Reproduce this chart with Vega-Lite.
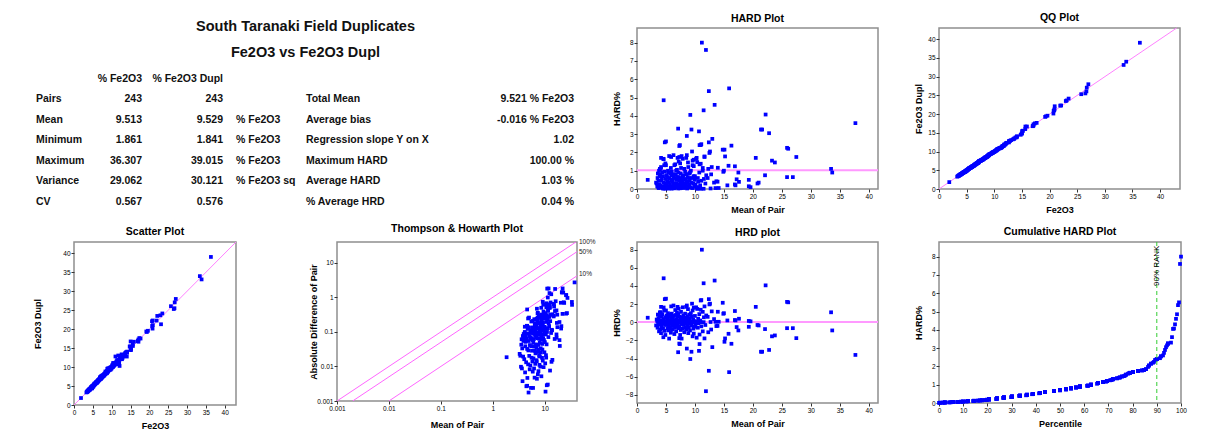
{
"$schema":"https://vega.github.io/schema/vega-lite/v6.json",
"padding":{"left":32,"top":12,"right":0,"bottom":0},
"background":"white",
"config":{
 "font":"Liberation Sans",
 "view":{"stroke":"#8f8f8f","strokeWidth":1.5},
 "axis":{"grid":false,"domain":false,"labelFontSize":6.5,"labelColor":"#000","labelPadding":1,"labelFlush":false,"labelOverlap":false,"tickSize":3,"tickColor":"#333","titleFontSize":9,"titleFontWeight":"bold","titleColor":"#000","titlePadding":2},
 "axisX":{"minExtent":14,"maxExtent":14},
 "axisY":{"minExtent":14,"maxExtent":14},
 "title":{"fontSize":10.5,"fontWeight":"bold","color":"#000","offset":4}
},
"datasets":{
 "tbl":[
  {"r":"t","c":"mid","t":"South Taranaki Field Duplicates"},
  {"r":"s","c":"mid","t":"Fe2O3 vs Fe2O3 Dupl"},
  {"r":"hdr","c":"v1","t":"% Fe2O3"},{"r":"hdr","c":"v2","t":"% Fe2O3 Dupl"},
  {"r":"Pairs","c":"lab","t":"Pairs"},{"r":"Pairs","c":"v1","t":"243"},{"r":"Pairs","c":"v2","t":"243"},{"r":"Pairs","c":"lab2","t":"Total Mean"},{"r":"Pairs","c":"val","t":"9.521 % Fe2O3"},
  {"r":"Mean","c":"lab","t":"Mean"},{"r":"Mean","c":"v1","t":"9.513"},{"r":"Mean","c":"v2","t":"9.529"},{"r":"Mean","c":"unit","t":"% Fe2O3"},{"r":"Mean","c":"lab2","t":"Average bias"},{"r":"Mean","c":"val","t":"-0.016 % Fe2O3"},
  {"r":"Minimum","c":"lab","t":"Minimum"},{"r":"Minimum","c":"v1","t":"1.861"},{"r":"Minimum","c":"v2","t":"1.841"},{"r":"Minimum","c":"unit","t":"% Fe2O3"},{"r":"Minimum","c":"lab2","t":"Regression slope Y on X"},{"r":"Minimum","c":"val","t":"1.02"},
  {"r":"Maximum","c":"lab","t":"Maximum"},{"r":"Maximum","c":"v1","t":"36.307"},{"r":"Maximum","c":"v2","t":"39.015"},{"r":"Maximum","c":"unit","t":"% Fe2O3"},{"r":"Maximum","c":"lab2","t":"Maximum HARD"},{"r":"Maximum","c":"val","t":"100.00 %"},
  {"r":"Variance","c":"lab","t":"Variance"},{"r":"Variance","c":"v1","t":"29.062"},{"r":"Variance","c":"v2","t":"30.121"},{"r":"Variance","c":"unit","t":"% Fe2O3 sq"},{"r":"Variance","c":"lab2","t":"Average HARD"},{"r":"Variance","c":"val","t":"1.03 %"},
  {"r":"CV","c":"lab","t":"CV"},{"r":"CV","c":"v1","t":"0.567"},{"r":"CV","c":"v2","t":"0.576"},{"r":"CV","c":"lab2","t":"% Average HRD"},{"r":"CV","c":"val","t":"0.04 %"}
 ],
 "thl":[
  {"p":"100%","x1":0.001,"y1":0.001,"x2":42,"y2":42,"ly":41},
  {"p":"50%","x1":0.002,"y1":0.001,"x2":42,"y2":21,"ly":21},
  {"p":"10%","x1":0.01,"y1":0.001,"x2":42,"y2":4.2,"ly":4.6}
 ],
 "pairs":[
{"m":1.85,"h":0.5,"a":1.86,"b":1.84,"d":0.0185,"k":0.5},
{"m":4.6,"h":4.85,"a":4.82,"b":4.38,"d":0.446,"k":4.85},
{"m":5.0,"h":2.6,"a":5.13,"b":4.87,"d":0.26,"k":2.6},
{"m":4.8,"h":2.55,"a":4.92,"b":4.68,"d":0.245,"k":2.55},
{"m":4.15,"h":1.7,"a":4.22,"b":4.08,"d":0.141,"k":1.7},
{"m":4.6,"h":1.63,"a":4.68,"b":4.53,"d":0.15,"k":1.63},
{"m":11.2,"h":8.0,"a":12.1,"b":10.3,"d":1.79,"k":8.0},
{"m":11.5,"h":4.3,"a":11.99,"b":11.01,"d":0.989,"k":4.3},
{"m":13.4,"h":4.6,"a":14.02,"b":12.78,"d":1.23,"k":4.6},
{"m":11.0,"h":2.4,"a":11.26,"b":10.74,"d":0.528,"k":2.4},
{"m":11.1,"h":2.45,"a":11.37,"b":10.83,"d":0.544,"k":2.45},
{"m":12.4,"h":2.55,"a":12.72,"b":12.08,"d":0.632,"k":2.55},
{"m":12.5,"h":1.97,"a":12.75,"b":12.25,"d":0.493,"k":1.97},
{"m":12.6,"h":2.05,"a":12.86,"b":12.34,"d":0.517,"k":2.05},
{"m":14.8,"h":2.15,"a":15.12,"b":14.48,"d":0.636,"k":2.15},
{"m":13.95,"h":1.16,"a":14.11,"b":13.79,"d":0.324,"k":1.16},
{"m":14.9,"h":0.94,"a":15.04,"b":14.76,"d":0.28,"k":0.94},
{"m":15.0,"h":1.0,"a":15.15,"b":14.85,"d":0.3,"k":1.0},
{"m":15.6,"h":0.2,"a":15.63,"b":15.57,"d":0.0624,"k":0.2},
{"m":16.9,"h":1.24,"a":17.11,"b":16.69,"d":0.419,"k":1.24},
{"m":17.6,"h":0.39,"a":17.67,"b":17.53,"d":0.137,"k":0.39},
{"m":17.0,"h":0.2,"a":17.03,"b":16.97,"d":0.068,"k":0.2},
{"m":17.2,"h":-0.53,"a":17.11,"b":17.29,"d":0.182,"k":0.53},
{"m":17.5,"h":-0.9,"a":17.34,"b":17.66,"d":0.315,"k":0.9},
{"m":15.8,"h":-1.27,"a":15.6,"b":16.0,"d":0.401,"k":1.27},
{"m":15.2,"h":-1.78,"a":14.93,"b":15.47,"d":0.541,"k":1.78},
{"m":15.1,"h":-2.15,"a":14.78,"b":15.42,"d":0.649,"k":2.15},
{"m":16.3,"h":-2.37,"a":15.91,"b":16.69,"d":0.773,"k":2.37},
{"m":15.9,"h":-5.5,"a":15.03,"b":16.77,"d":1.75,"k":5.5},
{"m":12.4,"h":-5.35,"a":11.74,"b":13.06,"d":1.33,"k":5.35},
{"m":11.9,"h":-7.6,"a":11.0,"b":12.8,"d":1.81,"k":7.6},
{"m":13.0,"h":-2.74,"a":12.64,"b":13.36,"d":0.712,"k":2.74},
{"m":11.65,"h":-1.78,"a":11.44,"b":11.86,"d":0.415,"k":1.78},
{"m":10.8,"h":-2.4,"a":10.54,"b":11.06,"d":0.518,"k":2.4},
{"m":10.7,"h":-3.15,"a":10.36,"b":11.04,"d":0.674,"k":3.15},
{"m":9.2,"h":-4.05,"a":8.83,"b":9.57,"d":0.745,"k":4.05},
{"m":9.4,"h":-3.25,"a":9.09,"b":9.71,"d":0.611,"k":3.25},
{"m":8.6,"h":-2.9,"a":8.35,"b":8.85,"d":0.499,"k":2.9},
{"m":7.1,"h":-3.3,"a":6.87,"b":7.33,"d":0.469,"k":3.3},
{"m":7.4,"h":-2.4,"a":7.22,"b":7.58,"d":0.355,"k":2.4},
{"m":7.3,"h":-2.35,"a":7.13,"b":7.47,"d":0.343,"k":2.35},
{"m":7.3,"h":-1.75,"a":7.17,"b":7.43,"d":0.256,"k":1.75},
{"m":19.3,"h":0.15,"a":19.33,"b":19.27,"d":0.0579,"k":0.15},
{"m":19.3,"h":-0.5,"a":19.2,"b":19.4,"d":0.193,"k":0.5},
{"m":19.6,"h":0.1,"a":19.62,"b":19.58,"d":0.0392,"k":0.1},
{"m":20.5,"h":1.7,"a":20.85,"b":20.15,"d":0.697,"k":1.7},
{"m":20.8,"h":-0.3,"a":20.74,"b":20.86,"d":0.125,"k":0.3},
{"m":21.0,"h":-0.35,"a":20.93,"b":21.07,"d":0.147,"k":0.35},
{"m":22.1,"h":-0.75,"a":21.93,"b":22.27,"d":0.332,"k":0.75},
{"m":22.2,"h":4.07,"a":23.1,"b":21.3,"d":1.81,"k":4.07},
{"m":21.4,"h":-3.25,"a":20.7,"b":22.1,"d":1.39,"k":3.25},
{"m":21.6,"h":-3.25,"a":20.9,"b":22.3,"d":1.4,"k":3.25},
{"m":22.8,"h":-3.05,"a":22.1,"b":23.5,"d":1.39,"k":3.05},
{"m":23.3,"h":-1.55,"a":22.94,"b":23.66,"d":0.722,"k":1.55},
{"m":23.8,"h":-1.45,"a":23.45,"b":24.15,"d":0.69,"k":1.45},
{"m":25.9,"h":2.25,"a":26.48,"b":25.32,"d":1.17,"k":2.25},
{"m":26.1,"h":2.2,"a":26.67,"b":25.53,"d":1.15,"k":2.2},
{"m":25.9,"h":-0.65,"a":25.73,"b":26.07,"d":0.337,"k":0.65},
{"m":26.9,"h":-0.65,"a":26.73,"b":27.07,"d":0.35,"k":0.65},
{"m":27.5,"h":-1.75,"a":27.02,"b":27.98,"d":0.963,"k":1.75},
{"m":33.5,"h":1.1,"a":33.87,"b":33.13,"d":0.737,"k":1.1},
{"m":33.7,"h":-0.9,"a":33.4,"b":34.0,"d":0.607,"k":0.9},
{"m":37.7,"h":-3.6,"a":36.34,"b":39.06,"d":2.71,"k":3.6},
{"m":13.55,"h":0.05,"a":13.56,"b":13.54,"d":0.0136,"k":0.05},
{"m":13.7,"h":-0.42,"a":13.64,"b":13.76,"d":0.115,"k":0.42},
{"m":13.9,"h":-0.4,"a":13.84,"b":13.96,"d":0.111,"k":0.4},
{"m":16.9,"h":0.25,"a":16.94,"b":16.86,"d":0.0845,"k":0.25},
{"m":12.9,"h":1.2,"a":13.05,"b":12.75,"d":0.31,"k":1.2},
{"m":14.1,"h":0.055,"a":14.11,"b":14.09,"d":0.0155,"k":0.055},
{"m":13.3,"h":0.35,"a":13.35,"b":13.25,"d":0.0931,"k":0.35},
{"m":12.8,"h":-0.8,"a":12.7,"b":12.9,"d":0.205,"k":0.8},
{"m":12.3,"h":-1.1,"a":12.16,"b":12.44,"d":0.271,"k":1.1},
{"m":12.7,"h":0.03,"a":12.7,"b":12.7,"d":0.0076,"k":0.03},
{"m":12.2,"h":0.6,"a":12.27,"b":12.13,"d":0.146,"k":0.6},
{"m":3.3,"h":-0.35,"a":3.29,"b":3.31,"d":0.0231,"k":0.35},
{"m":3.4,"h":0.3,"a":3.41,"b":3.39,"d":0.0204,"k":0.3},
{"m":3.5,"h":0.14,"a":3.5,"b":3.5,"d":0.0098,"k":0.14},
{"m":3.55,"h":-0.6,"a":3.53,"b":3.57,"d":0.0426,"k":0.6},
{"m":3.6,"h":0.85,"a":3.63,"b":3.57,"d":0.0612,"k":0.85},
{"m":3.65,"h":-0.12,"a":3.65,"b":3.65,"d":0.00876,"k":0.12},
{"m":3.7,"h":0.45,"a":3.72,"b":3.68,"d":0.0333,"k":0.45},
{"m":3.75,"h":0.05,"a":3.75,"b":3.75,"d":0.00375,"k":0.05},
{"m":3.8,"h":-1.0,"a":3.76,"b":3.84,"d":0.076,"k":1.0},
{"m":3.85,"h":-0.25,"a":3.84,"b":3.86,"d":0.0193,"k":0.25},
{"m":3.9,"h":0.7,"a":3.93,"b":3.87,"d":0.0546,"k":0.7},
{"m":3.95,"h":1.1,"a":3.99,"b":3.91,"d":0.0869,"k":1.1},
{"m":4.0,"h":-0.8,"a":3.97,"b":4.03,"d":0.064,"k":0.8},
{"m":4.05,"h":0.2,"a":4.06,"b":4.04,"d":0.0162,"k":0.2},
{"m":4.1,"h":1.1,"a":4.15,"b":4.05,"d":0.0902,"k":1.1},
{"m":4.15,"h":-1.2,"a":4.1,"b":4.2,"d":0.0996,"k":1.2},
{"m":4.2,"h":0.08,"a":4.2,"b":4.2,"d":0.00672,"k":0.08},
{"m":4.25,"h":-0.45,"a":4.23,"b":4.27,"d":0.0383,"k":0.45},
{"m":4.3,"h":0.6,"a":4.33,"b":4.27,"d":0.0516,"k":0.6},
{"m":4.35,"h":0.9,"a":4.39,"b":4.31,"d":0.0783,"k":0.9},
{"m":4.4,"h":-0.15,"a":4.39,"b":4.41,"d":0.0132,"k":0.15},
{"m":4.45,"h":0.03,"a":4.45,"b":4.45,"d":0.00267,"k":0.03},
{"m":4.5,"h":-0.7,"a":4.47,"b":4.53,"d":0.063,"k":0.7},
{"m":4.55,"h":-1.65,"a":4.47,"b":4.63,"d":0.15,"k":1.65},
{"m":4.6,"h":0.35,"a":4.62,"b":4.58,"d":0.0322,"k":0.35},
{"m":4.6,"h":0.03,"a":4.6,"b":4.6,"d":0.00276,"k":0.03},
{"m":4.65,"h":-0.05,"a":4.65,"b":4.65,"d":0.00465,"k":0.05},
{"m":4.7,"h":1.3,"a":4.76,"b":4.64,"d":0.122,"k":1.3},
{"m":4.75,"h":-0.95,"a":4.7,"b":4.8,"d":0.0903,"k":0.95},
{"m":4.8,"h":0.12,"a":4.81,"b":4.79,"d":0.0115,"k":0.12},
{"m":4.85,"h":-0.3,"a":4.84,"b":4.86,"d":0.0291,"k":0.3},
{"m":4.9,"h":0.018,"a":4.9,"b":4.9,"d":0.00176,"k":0.018},
{"m":4.9,"h":-1.4,"a":4.83,"b":4.97,"d":0.137,"k":1.4},
{"m":4.95,"h":0.55,"a":4.98,"b":4.92,"d":0.0545,"k":0.55},
{"m":5.0,"h":1.3,"a":5.07,"b":4.94,"d":0.13,"k":1.3},
{"m":5.05,"h":-0.2,"a":5.04,"b":5.06,"d":0.0202,"k":0.2},
{"m":5.1,"h":0.75,"a":5.14,"b":5.06,"d":0.0765,"k":0.75},
{"m":5.15,"h":-0.08,"a":5.15,"b":5.15,"d":0.00824,"k":0.08},
{"m":5.2,"h":0.4,"a":5.22,"b":5.18,"d":0.0416,"k":0.4},
{"m":5.25,"h":-0.65,"a":5.22,"b":5.28,"d":0.0683,"k":0.65},
{"m":5.3,"h":0.1,"a":5.31,"b":5.29,"d":0.0106,"k":0.1},
{"m":5.35,"h":1.0,"a":5.4,"b":5.3,"d":0.107,"k":1.0},
{"m":5.4,"h":-0.9,"a":5.35,"b":5.45,"d":0.0972,"k":0.9},
{"m":5.45,"h":0.022,"a":5.45,"b":5.45,"d":0.0024,"k":0.022},
{"m":5.5,"h":-0.35,"a":5.48,"b":5.52,"d":0.0385,"k":0.35},
{"m":5.5,"h":0.6,"a":5.53,"b":5.47,"d":0.066,"k":0.6},
{"m":5.55,"h":-1.8,"a":5.45,"b":5.65,"d":0.2,"k":1.8},
{"m":5.6,"h":0.16,"a":5.61,"b":5.59,"d":0.0179,"k":0.16},
{"m":5.65,"h":-0.55,"a":5.62,"b":5.68,"d":0.0622,"k":0.55},
{"m":5.7,"h":0.25,"a":5.71,"b":5.69,"d":0.0285,"k":0.25},
{"m":5.75,"h":0.85,"a":5.8,"b":5.7,"d":0.0978,"k":0.85},
{"m":5.8,"h":-0.12,"a":5.79,"b":5.81,"d":0.0139,"k":0.12},
{"m":5.85,"h":-1.15,"a":5.78,"b":5.92,"d":0.135,"k":1.15},
{"m":5.9,"h":1.75,"a":6.0,"b":5.8,"d":0.207,"k":1.75},
{"m":5.9,"h":0.06,"a":5.9,"b":5.9,"d":0.00708,"k":0.06},
{"m":5.95,"h":-0.75,"a":5.91,"b":5.99,"d":0.0893,"k":0.75},
{"m":5.95,"h":0.48,"a":5.98,"b":5.92,"d":0.0571,"k":0.48},
{"m":5.98,"h":-0.02,"a":5.98,"b":5.98,"d":0.00239,"k":0.02},
{"m":6.0,"h":0.95,"a":6.06,"b":5.94,"d":0.114,"k":0.95},
{"m":6.05,"h":-0.4,"a":6.03,"b":6.07,"d":0.0484,"k":0.4},
{"m":6.1,"h":0.14,"a":6.11,"b":6.09,"d":0.0171,"k":0.14},
{"m":6.15,"h":-0.8,"a":6.1,"b":6.2,"d":0.0984,"k":0.8},
{"m":6.2,"h":0.5,"a":6.23,"b":6.17,"d":0.062,"k":0.5},
{"m":6.25,"h":-0.07,"a":6.25,"b":6.25,"d":0.00875,"k":0.07},
{"m":6.3,"h":1.85,"a":6.42,"b":6.18,"d":0.233,"k":1.85},
{"m":6.3,"h":-0.3,"a":6.28,"b":6.32,"d":0.0378,"k":0.3},
{"m":6.35,"h":0.7,"a":6.39,"b":6.31,"d":0.0889,"k":0.7},
{"m":6.4,"h":0.037,"a":6.4,"b":6.4,"d":0.00474,"k":0.037},
{"m":6.45,"h":-1.3,"a":6.37,"b":6.53,"d":0.168,"k":1.3},
{"m":6.5,"h":0.22,"a":6.51,"b":6.49,"d":0.0286,"k":0.22},
{"m":6.55,"h":-0.6,"a":6.51,"b":6.59,"d":0.0786,"k":0.6},
{"m":6.6,"h":1.35,"a":6.69,"b":6.51,"d":0.178,"k":1.35},
{"m":6.6,"h":0.09,"a":6.61,"b":6.59,"d":0.0119,"k":0.09},
{"m":6.65,"h":-0.18,"a":6.64,"b":6.66,"d":0.0239,"k":0.18},
{"m":6.7,"h":0.8,"a":6.75,"b":6.65,"d":0.107,"k":0.8},
{"m":6.75,"h":-1.0,"a":6.68,"b":6.82,"d":0.135,"k":1.0},
{"m":6.8,"h":0.32,"a":6.82,"b":6.78,"d":0.0435,"k":0.32},
{"m":6.85,"h":-0.5,"a":6.82,"b":6.88,"d":0.0685,"k":0.5},
{"m":6.9,"h":0.11,"a":6.91,"b":6.89,"d":0.0152,"k":0.11},
{"m":6.9,"h":1.05,"a":6.97,"b":6.83,"d":0.145,"k":1.05},
{"m":6.95,"h":-0.25,"a":6.93,"b":6.97,"d":0.0348,"k":0.25},
{"m":6.98,"h":0.65,"a":7.03,"b":6.93,"d":0.0907,"k":0.65},
{"m":7.0,"h":1.7,"a":7.12,"b":6.88,"d":0.238,"k":1.7},
{"m":7.05,"h":-0.1,"a":7.04,"b":7.06,"d":0.0141,"k":0.1},
{"m":7.1,"h":0.031,"a":7.1,"b":7.1,"d":0.0044,"k":0.031},
{"m":7.15,"h":0.9,"a":7.21,"b":7.09,"d":0.129,"k":0.9},
{"m":7.2,"h":1.5,"a":7.31,"b":7.09,"d":0.216,"k":1.5},
{"m":7.2,"h":-0.65,"a":7.15,"b":7.25,"d":0.0936,"k":0.65},
{"m":7.25,"h":0.18,"a":7.26,"b":7.24,"d":0.0261,"k":0.18},
{"m":7.3,"h":-0.45,"a":7.27,"b":7.33,"d":0.0657,"k":0.45},
{"m":7.35,"h":0.6,"a":7.39,"b":7.31,"d":0.0882,"k":0.6},
{"m":7.4,"h":0.04,"a":7.4,"b":7.4,"d":0.00592,"k":0.04},
{"m":7.45,"h":-1.4,"a":7.35,"b":7.55,"d":0.209,"k":1.4},
{"m":7.5,"h":0.28,"a":7.52,"b":7.48,"d":0.042,"k":0.28},
{"m":7.55,"h":-0.85,"a":7.49,"b":7.61,"d":0.128,"k":0.85},
{"m":7.6,"h":0.048,"a":7.6,"b":7.6,"d":0.0073,"k":0.048},
{"m":7.6,"h":1.15,"a":7.69,"b":7.51,"d":0.175,"k":1.15},
{"m":7.65,"h":-0.2,"a":7.63,"b":7.67,"d":0.0306,"k":0.2},
{"m":7.7,"h":-1.8,"a":7.56,"b":7.84,"d":0.277,"k":1.8},
{"m":7.75,"h":0.55,"a":7.79,"b":7.71,"d":0.0853,"k":0.55},
{"m":7.8,"h":-0.13,"a":7.79,"b":7.81,"d":0.0203,"k":0.13},
{"m":7.85,"h":0.4,"a":7.88,"b":7.82,"d":0.0628,"k":0.4},
{"m":7.9,"h":1.65,"a":8.03,"b":7.77,"d":0.261,"k":1.65},
{"m":7.9,"h":-0.7,"a":7.84,"b":7.96,"d":0.111,"k":0.7},
{"m":7.95,"h":0.07,"a":7.96,"b":7.94,"d":0.0111,"k":0.07},
{"m":8.0,"h":0.75,"a":8.06,"b":7.94,"d":0.12,"k":0.75},
{"m":8.05,"h":-0.3,"a":8.03,"b":8.07,"d":0.0483,"k":0.3},
{"m":8.1,"h":0.12,"a":8.11,"b":8.09,"d":0.0194,"k":0.12},
{"m":8.15,"h":-1.1,"a":8.06,"b":8.24,"d":0.179,"k":1.1},
{"m":8.2,"h":0.5,"a":8.24,"b":8.16,"d":0.082,"k":0.5},
{"m":8.25,"h":-0.06,"a":8.25,"b":8.25,"d":0.0099,"k":0.06},
{"m":8.3,"h":0.95,"a":8.38,"b":8.22,"d":0.158,"k":0.95},
{"m":8.35,"h":-0.55,"a":8.3,"b":8.4,"d":0.0919,"k":0.55},
{"m":8.4,"h":0.2,"a":8.42,"b":8.38,"d":0.0336,"k":0.2},
{"m":8.45,"h":-0.15,"a":8.44,"b":8.46,"d":0.0254,"k":0.15},
{"m":8.5,"h":1.7,"a":8.64,"b":8.36,"d":0.289,"k":1.7},
{"m":8.5,"h":-0.8,"a":8.43,"b":8.57,"d":0.136,"k":0.8},
{"m":8.55,"h":0.35,"a":8.58,"b":8.52,"d":0.0599,"k":0.35},
{"m":8.6,"h":1.85,"a":8.76,"b":8.44,"d":0.318,"k":1.85},
{"m":8.65,"h":0.03,"a":8.65,"b":8.65,"d":0.00519,"k":0.03},
{"m":8.7,"h":-0.4,"a":8.67,"b":8.73,"d":0.0696,"k":0.4},
{"m":8.75,"h":0.65,"a":8.81,"b":8.69,"d":0.114,"k":0.65},
{"m":8.8,"h":1.45,"a":8.93,"b":8.67,"d":0.255,"k":1.45},
{"m":8.85,"h":-1.2,"a":8.74,"b":8.96,"d":0.212,"k":1.2},
{"m":8.9,"h":0.1,"a":8.91,"b":8.89,"d":0.0178,"k":0.1},
{"m":8.95,"h":-0.6,"a":8.9,"b":9.0,"d":0.107,"k":0.6},
{"m":8.98,"h":0.25,"a":9.0,"b":8.96,"d":0.0449,"k":0.25},
{"m":9.0,"h":0.85,"a":9.08,"b":8.92,"d":0.153,"k":0.85},
{"m":9.05,"h":-0.17,"a":9.03,"b":9.07,"d":0.0308,"k":0.17},
{"m":9.1,"h":0.45,"a":9.14,"b":9.06,"d":0.0819,"k":0.45},
{"m":9.15,"h":-0.9,"a":9.07,"b":9.23,"d":0.165,"k":0.9},
{"m":9.2,"h":0.08,"a":9.21,"b":9.19,"d":0.0147,"k":0.08},
{"m":9.3,"h":1.0,"a":9.39,"b":9.21,"d":0.186,"k":1.0},
{"m":9.35,"h":-0.35,"a":9.32,"b":9.38,"d":0.0655,"k":0.35},
{"m":9.45,"h":0.6,"a":9.51,"b":9.39,"d":0.113,"k":0.6},
{"m":9.5,"h":2.05,"a":9.69,"b":9.31,"d":0.39,"k":2.05},
{"m":9.55,"h":-0.05,"a":9.55,"b":9.55,"d":0.00955,"k":0.05},
{"m":9.6,"h":1.3,"a":9.72,"b":9.48,"d":0.25,"k":1.3},
{"m":9.6,"h":-1.55,"a":9.45,"b":9.75,"d":0.298,"k":1.55},
{"m":9.7,"h":0.3,"a":9.73,"b":9.67,"d":0.0582,"k":0.3},
{"m":9.75,"h":-0.7,"a":9.68,"b":9.82,"d":0.137,"k":0.7},
{"m":9.8,"h":1.6,"a":9.96,"b":9.64,"d":0.314,"k":1.6},
{"m":9.8,"h":-1.25,"a":9.68,"b":9.92,"d":0.245,"k":1.25},
{"m":9.9,"h":0.13,"a":9.91,"b":9.89,"d":0.0257,"k":0.13},
{"m":9.95,"h":-0.5,"a":9.9,"b":10.0,"d":0.0995,"k":0.5},
{"m":10.0,"h":0.7,"a":10.07,"b":9.93,"d":0.14,"k":0.7},
{"m":10.1,"h":-0.25,"a":10.07,"b":10.13,"d":0.0505,"k":0.25},
{"m":10.2,"h":1.65,"a":10.37,"b":10.03,"d":0.337,"k":1.65},
{"m":10.25,"h":0.06,"a":10.26,"b":10.24,"d":0.0123,"k":0.06},
{"m":10.3,"h":-1.7,"a":10.12,"b":10.48,"d":0.35,"k":1.7},
{"m":10.4,"h":1.47,"a":10.55,"b":10.25,"d":0.306,"k":1.47},
{"m":10.4,"h":0.009,"a":10.4,"b":10.4,"d":0.00187,"k":0.009},
{"m":10.5,"h":-0.6,"a":10.44,"b":10.56,"d":0.126,"k":0.6},
{"m":10.55,"h":0.4,"a":10.59,"b":10.51,"d":0.0844,"k":0.4},
{"m":10.6,"h":-0.1,"a":10.59,"b":10.61,"d":0.0212,"k":0.1},
{"m":10.7,"h":0.084,"a":10.71,"b":10.69,"d":0.018,"k":0.084},
{"m":10.75,"h":0.9,"a":10.85,"b":10.65,"d":0.194,"k":0.9},
{"m":10.8,"h":-1.35,"a":10.65,"b":10.95,"d":0.292,"k":1.35},
{"m":10.9,"h":0.2,"a":10.92,"b":10.88,"d":0.0436,"k":0.2},
{"m":11.0,"h":1.38,"a":11.15,"b":10.85,"d":0.304,"k":1.38},
{"m":11.0,"h":0.013,"a":11.0,"b":11.0,"d":0.00286,"k":0.013},
{"m":11.1,"h":-0.45,"a":11.05,"b":11.15,"d":0.0999,"k":0.45},
{"m":11.35,"h":1.15,"a":11.48,"b":11.22,"d":0.261,"k":1.15},
{"m":11.35,"h":-1.0,"a":11.24,"b":11.46,"d":0.227,"k":1.0},
{"m":11.5,"h":0.013,"a":11.5,"b":11.5,"d":0.00299,"k":0.013},
{"m":11.55,"h":0.55,"a":11.61,"b":11.49,"d":0.127,"k":0.55},
{"m":11.65,"h":1.75,"a":11.85,"b":11.45,"d":0.408,"k":1.75},
{"m":11.8,"h":-0.3,"a":11.76,"b":11.84,"d":0.0708,"k":0.3},
{"m":11.95,"h":0.75,"a":12.04,"b":11.86,"d":0.179,"k":0.75}
 ]
},
"spacing":13,
"hconcat":[
 {"spacing":15,"vconcat":[
  {"width":524,"height":178,"view":{"stroke":null},"data":{"name":"tbl"},
   "encoding":{
    "y":{"field":"r","type":"nominal","scale":{"type":"point","domain":["t","s","hdr","Pairs","Mean","Minimum","Maximum","Variance","CV"],"padding":0.3415,"align":0.714},"axis":null},
    "text":{"field":"t"}},
   "layer":[
    {"transform":[{"filter":{"field":"r","equal":"t"}}],"mark":{"type":"text","fontSize":14.5,"fontWeight":"bold","align":"center","baseline":"middle","dy":-11,"color":"#111"},
     "encoding":{"x":{"datum":307.5,"type":"quantitative","scale":{"domain":[76,600],"nice":false,"zero":false},"axis":null}}},
    {"transform":[{"filter":{"field":"r","equal":"s"}}],"mark":{"type":"text","fontSize":14.5,"fontWeight":"bold","align":"center","baseline":"middle","dy":-5,"color":"#111"},
     "encoding":{"x":{"datum":307.5,"type":"quantitative"}}},
    {"transform":[{"filter":{"field":"c","equal":"lab"}}],"mark":{"type":"text","fontSize":10.5,"fontWeight":"bold","align":"left","baseline":"middle","color":"#111"},
     "encoding":{"x":{"datum":38,"type":"quantitative"}}},
    {"transform":[{"filter":{"field":"c","equal":"unit"}}],"mark":{"type":"text","fontSize":10.5,"fontWeight":"bold","align":"left","baseline":"middle","color":"#111"},
     "encoding":{"x":{"datum":238,"type":"quantitative"}}},
    {"transform":[{"filter":{"field":"c","equal":"lab2"}}],"mark":{"type":"text","fontSize":10.5,"fontWeight":"bold","align":"left","baseline":"middle","color":"#111"},
     "encoding":{"x":{"datum":308,"type":"quantitative"}}},
    {"transform":[{"filter":{"field":"c","equal":"v1"}}],"mark":{"type":"text","fontSize":10.5,"fontWeight":"bold","align":"right","baseline":"middle","color":"#111"},
     "encoding":{"x":{"datum":144,"type":"quantitative"}}},
    {"transform":[{"filter":{"field":"c","equal":"v2"}}],"mark":{"type":"text","fontSize":10.5,"fontWeight":"bold","align":"right","baseline":"middle","color":"#111"},
     "encoding":{"x":{"datum":225,"type":"quantitative"}}},
    {"transform":[{"filter":{"field":"c","equal":"val"}}],"mark":{"type":"text","fontSize":10.5,"fontWeight":"bold","align":"right","baseline":"middle","color":"#111"},
     "encoding":{"x":{"datum":576,"type":"quantitative"}}}
   ]},
  {"spacing":70,"hconcat":[
   {"title":"Scatter Plot","width":162,"height":163,
    "layer":[
     {"data":{"values":[{}]},"mark":{"type":"rule","color":"#ff80ff","strokeWidth":1},
      "encoding":{
       "x":{"datum":0,"type":"quantitative","title":"Fe2O3","scale":{"domain":[0,43],"nice":false,"zero":false},"axis":{"values":[0,5,10,15,20,25,30,35,40],"labelOverlap":false}},
       "y":{"datum":0,"type":"quantitative","title":"Fe2O3 Dupl","scale":{"domain":[0,43],"nice":false,"zero":false},"axis":{"values":[0,5,10,15,20,25,30,35,40],"labelOverlap":false,"minExtent":30,"maxExtent":30}},
       "x2":{"datum":43},"y2":{"datum":43}}},
     {"data":{"name":"pairs"},"mark":{"type":"square","color":"#0000ff","size":14,"opacity":1},
      "encoding":{
       "x":{"field":"a","type":"quantitative","title":"Fe2O3","scale":{"domain":[0,43],"nice":false,"zero":false},"axis":{"values":[0,5,10,15,20,25,30,35,40],"labelOverlap":false}},
       "y":{"field":"b","type":"quantitative","title":"Fe2O3 Dupl","scale":{"domain":[0,43],"nice":false,"zero":false},"axis":{"values":[0,5,10,15,20,25,30,35,40],"labelOverlap":false,"minExtent":30,"maxExtent":30}}}}
    ]},
   {"title":"Thompson & Howarth Plot","width":240,"height":159,
    "layer":[
     {"data":{"name":"thl"},"mark":{"type":"rule","color":"#ff66ff","strokeWidth":1,"clip":true},
      "encoding":{
       "x":{"field":"x1","type":"quantitative","title":"Mean of Pair","scale":{"type":"log","domain":[0.001,42],"nice":false},"axis":{"values":[0.001,0.01,0.1,1,10],"format":"~g","labelOverlap":false,"minExtent":17,"maxExtent":17}},
       "y":{"field":"y1","type":"quantitative","title":"Absolute Difference of Pair","scale":{"type":"log","domain":[0.001,40],"nice":false},"axis":{"values":[0.001,0.01,0.1,1,10],"format":"~g","labelOverlap":false,"minExtent":17,"maxExtent":17}},
       "x2":{"field":"x2"},"y2":{"field":"y2"}}},
     {"data":{"name":"thl"},"mark":{"type":"text","align":"left","baseline":"middle","dx":2,"fontSize":6.5,"color":"#222"},
      "encoding":{
       "x":{"field":"x2","type":"quantitative","title":"Mean of Pair","axis":{"values":[0.001,0.01,0.1,1,10],"format":"~g","labelOverlap":false,"minExtent":17,"maxExtent":17}},
       "y":{"field":"ly","type":"quantitative","title":"Absolute Difference of Pair","axis":{"values":[0.001,0.01,0.1,1,10],"format":"~g","labelOverlap":false,"minExtent":17,"maxExtent":17}},
       "text":{"field":"p"}}},
     {"data":{"name":"pairs"},"mark":{"type":"square","color":"#0000ff","size":14,"opacity":1},
      "encoding":{
       "x":{"field":"m","type":"quantitative","title":"Mean of Pair","axis":{"values":[0.001,0.01,0.1,1,10],"format":"~g","labelOverlap":false,"minExtent":17,"maxExtent":17}},
       "y":{"field":"d","type":"quantitative","title":"Absolute Difference of Pair","axis":{"values":[0.001,0.01,0.1,1,10],"format":"~g","labelOverlap":false,"minExtent":17,"maxExtent":17}}}}
    ]}
  ]}
 ]},
 {"spacing":11,"vconcat":[
  {"spacing":33,"hconcat":[
   {"title":"HARD Plot","width":241,"height":161,
    "layer":[
     {"data":{"values":[{}]},"mark":{"type":"rule","color":"#ff99ff","strokeWidth":2},
      "encoding":{"y":{"datum":1.03,"type":"quantitative","title":"HARD%","scale":{"domain":[0,8.8],"nice":false,"zero":false},"axis":{"values":[0,1,2,3,4,5,6,7,8],"labelOverlap":false}}}},
     {"data":{"name":"pairs"},"mark":{"type":"square","color":"#0000ff","size":14,"opacity":1},
      "encoding":{
       "x":{"field":"m","type":"quantitative","title":"Mean of Pair","scale":{"domain":[0,41.6],"nice":false,"zero":false},"axis":{"values":[0,5,10,15,20,25,30,35,40],"labelOverlap":false}},
       "y":{"field":"k","type":"quantitative","title":"HARD%","scale":{"domain":[0,8.8],"nice":false,"zero":false},"axis":{"values":[0,1,2,3,4,5,6,7,8],"labelOverlap":false}}}}
    ]},
   {"title":"QQ Plot","width":241,"height":161,
    "layer":[
     {"data":{"values":[{}]},"mark":{"type":"rule","color":"#ff80ff","strokeWidth":1},
      "encoding":{
       "x":{"datum":0,"type":"quantitative","title":"Fe2O3","scale":{"domain":[0,43.6],"nice":false,"zero":false},"axis":{"values":[0,5,10,15,20,25,30,35,40],"labelOverlap":false}},
       "y":{"datum":0,"type":"quantitative","title":"Fe2O3 Dupl","scale":{"domain":[0,43],"nice":false,"zero":false},"axis":{"values":[0,5,10,15,20,25,30,35,40],"labelOverlap":false}},
       "x2":{"datum":43},"y2":{"datum":43}}},
     {"data":{"name":"pairs"},
      "transform":[
       {"fold":["a","b"],"as":["key","value"]},
       {"window":[{"op":"row_number","as":"rank"}],"sort":[{"field":"value","order":"ascending"}],"groupby":["key"]},
       {"pivot":"key","value":"value","groupby":["rank"]}
      ],
      "mark":{"type":"square","color":"#0000ff","size":14,"opacity":1},
      "encoding":{
       "x":{"field":"a","type":"quantitative","title":"Fe2O3","scale":{"domain":[0,43.6],"nice":false,"zero":false},"axis":{"values":[0,5,10,15,20,25,30,35,40],"labelOverlap":false}},
       "y":{"field":"b","type":"quantitative","title":"Fe2O3 Dupl","scale":{"domain":[0,43],"nice":false,"zero":false},"axis":{"values":[0,5,10,15,20,25,30,35,40],"labelOverlap":false}}}}
    ]}
  ]},
  {"spacing":33,"hconcat":[
   {"title":"HRD plot","width":241,"height":161,
    "layer":[
     {"data":{"values":[{}]},"mark":{"type":"rule","color":"#ff99ff","strokeWidth":2},
      "encoding":{"y":{"datum":0.04,"type":"quantitative","title":"HRD%","scale":{"domain":[-8.9,8.85],"nice":false,"zero":false},"axis":{"values":[-8,-6,-4,-2,0,2,4,6,8],"labelOverlap":false}}}},
     {"data":{"name":"pairs"},"mark":{"type":"square","color":"#0000ff","size":14,"opacity":1},
      "encoding":{
       "x":{"field":"m","type":"quantitative","title":"Mean of Pair","scale":{"domain":[0,41.6],"nice":false,"zero":false},"axis":{"values":[0,5,10,15,20,25,30,35,40],"labelOverlap":false}},
       "y":{"field":"h","type":"quantitative","title":"HRD%","scale":{"domain":[-8.9,8.85],"nice":false,"zero":false},"axis":{"values":[-8,-6,-4,-2,0,2,4,6,8],"labelOverlap":false}}}}
    ]},
   {"title":"Cumulative HARD Plot","width":242,"height":161,
    "layer":[
     {"data":{"name":"pairs"},
      "transform":[{"window":[{"op":"percent_rank","as":"pr"}],"sort":[{"field":"k","order":"ascending"}]}],
      "mark":{"type":"square","color":"#0000ff","size":14,"opacity":1},
      "encoding":{
       "x":{"field":"pr","type":"quantitative","title":"Percentile","scale":{"domain":[0,1],"nice":false,"zero":false},"axis":{"values":[0,0.1,0.2,0.3,0.4,0.5,0.6,0.7,0.8,0.9,1],"labelExpr":"format(datum.value*100,'d')","labelOverlap":false}},
       "y":{"field":"k","type":"quantitative","title":"HARD%","scale":{"domain":[0,8.8],"nice":false,"zero":false},"axis":{"values":[0,1,2,3,4,5,6,7,8],"labelOverlap":false}}}},
     {"data":{"values":[{}]},"mark":{"type":"rule","color":"#33cc33","strokeWidth":1,"strokeDash":[4,3]},
      "encoding":{"x":{"datum":0.9,"type":"quantitative","title":"Percentile","axis":{"values":[0,0.1,0.2,0.3,0.4,0.5,0.6,0.7,0.8,0.9,1],"labelExpr":"format(datum.value*100,'d')","labelOverlap":false}}}},
     {"data":{"values":[{}]},"mark":{"type":"text","angle":270,"fontSize":8,"align":"center","baseline":"middle","color":"#000"},
      "encoding":{
       "x":{"datum":0.9,"type":"quantitative","title":"Percentile","axis":{"values":[0,0.1,0.2,0.3,0.4,0.5,0.6,0.7,0.8,0.9,1],"labelExpr":"format(datum.value*100,'d')","labelOverlap":false}},
       "y":{"datum":7.5,"type":"quantitative","title":"HARD%","axis":{"values":[0,1,2,3,4,5,6,7,8],"labelOverlap":false}},
       "text":{"value":"90% RANK"}}}
    ]}
  ]}
 ]}
]
}
